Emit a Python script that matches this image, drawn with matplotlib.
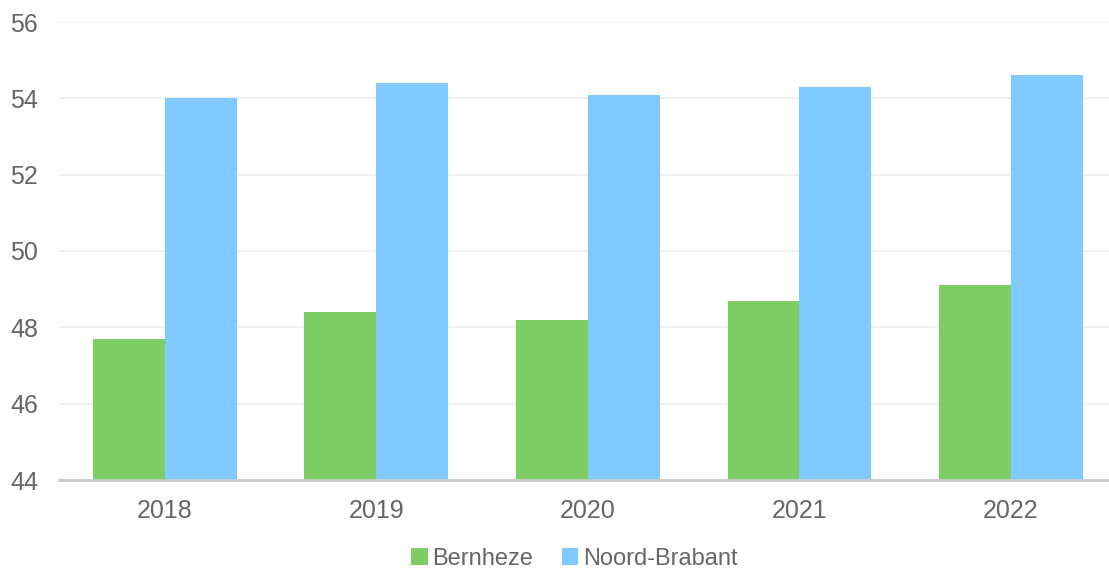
import matplotlib.pyplot as plt
import numpy as np

# data
jaren = ['2018', '2019', '2020', '2021', '2022']
bernheze = [47.7, 48.4, 48.2, 48.7, 49.1]
noord_brabant = [54.0, 54.4, 54.1, 54.3, 54.6]

plt.rcParams['font.family'] = ['Liberation Sans', 'DejaVu Sans']

fig = plt.figure(figsize=(11.09, 5.71), dpi=100)
ax = fig.add_axes([59 / 1109, 1 - 480 / 571, 1050 / 1109, 458 / 571])

x = np.arange(len(jaren))
w = 0.34
ax.bar(x - w / 2, [b - 44 for b in bernheze], w, bottom=44, color='#7ece65', label='Bernheze', zorder=2)
ax.bar(x + w / 2, [n - 44 for n in noord_brabant], w, bottom=44, color='#80caff', label='Noord-Brabant', zorder=2)

ax.set_ylim(44, 56)
ax.set_xlim(-0.5, 4.463)
ax.set_yticks(range(44, 57, 2))
ax.set_xticks(x)
ax.set_xticklabels(jaren)
ax.grid(axis='y', color='#f0f0f0', linewidth=1.5, zorder=0)
ax.set_axisbelow(True)

for s in ['top', 'right', 'left']:
    ax.spines[s].set_visible(False)
ax.spines['bottom'].set_color('#cccccc')
ax.spines['bottom'].set_linewidth(2)
ax.spines['bottom'].set_zorder(3)

ax.tick_params(axis='both', length=0, labelsize=18, colors='#666666')
ax.tick_params(axis='x', pad=14)
ax.tick_params(axis='y', pad=15)

leg = fig.legend(loc='center', bbox_to_anchor=(0.518, 1 - 559 / 571), ncol=2, frameon=False,
                 fontsize=17, handlelength=0.7, handleheight=0.7, handletextpad=0.2,
                 columnspacing=1.2, labelcolor='#666666', borderpad=0)

fig.savefig('out.png', dpi=100)
